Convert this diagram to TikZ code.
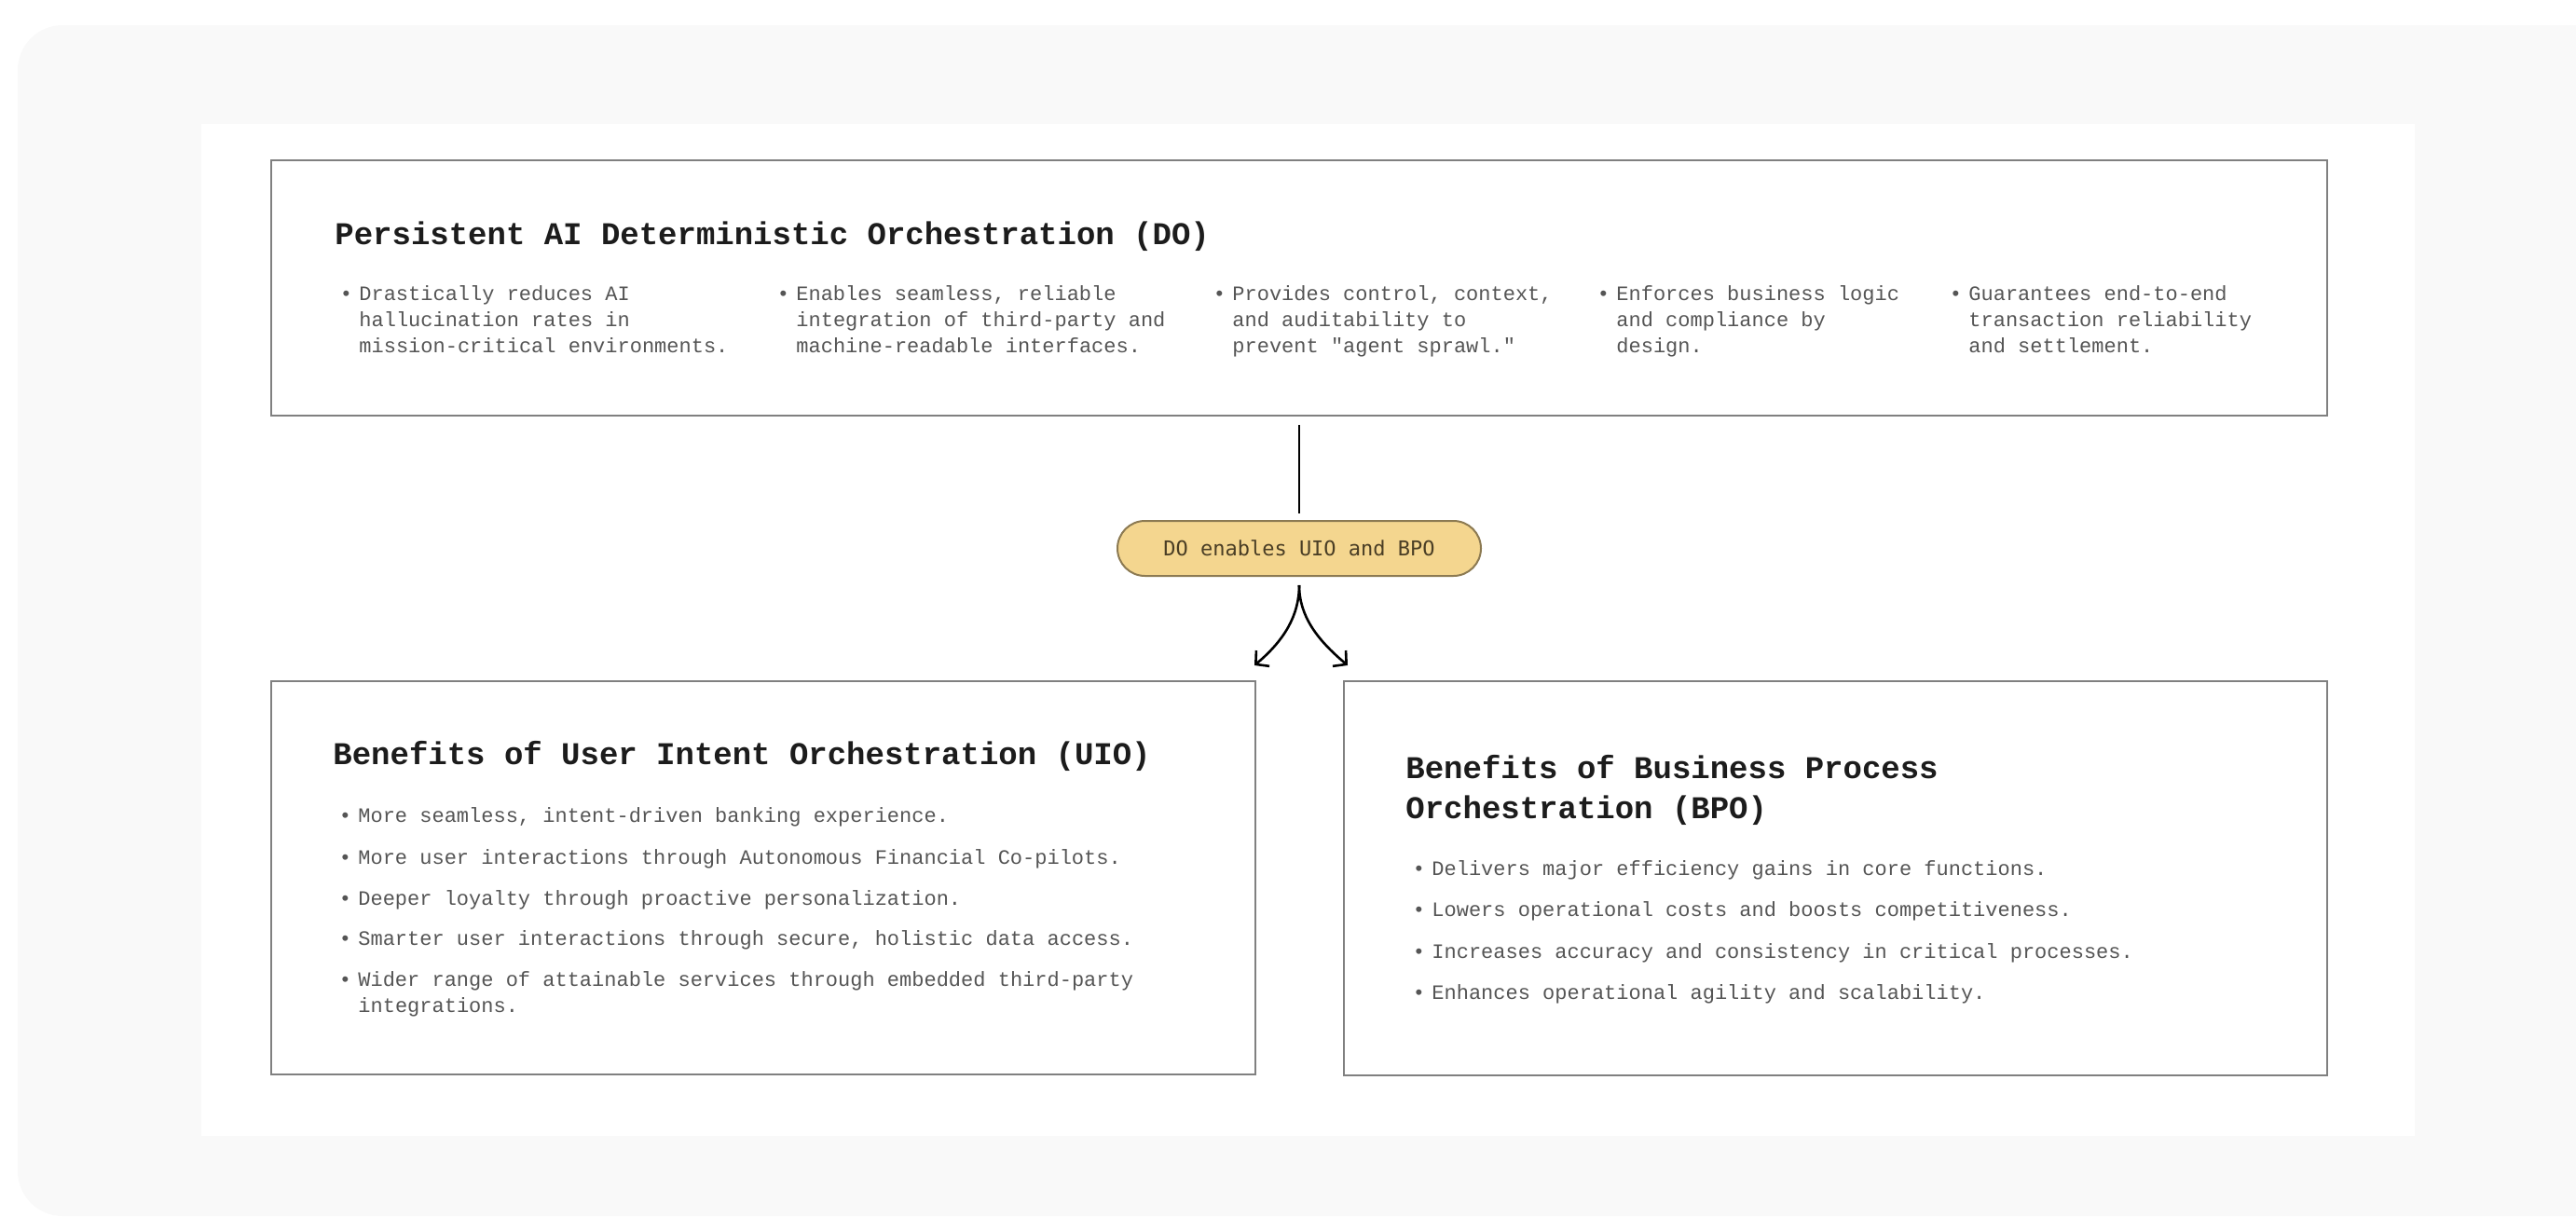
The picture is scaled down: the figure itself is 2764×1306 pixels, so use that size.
\documentclass[tikz,border=0pt]{standalone}
\usepackage{fontspec}
\usepackage{tikz}
\usetikzlibrary{arrows.meta,positioning}

\newfontfamily\courfont{Liberation Mono}
\newfontfamily\pillfont{DejaVu Sans Mono}

\definecolor{pagegray}{HTML}{F9F9F9}
\definecolor{boxgray}{HTML}{808080}
\definecolor{titleink}{HTML}{1C1C1C}
\definecolor{bodyink}{HTML}{555555}
\definecolor{pillfill}{HTML}{F4D68F}
\definecolor{pilldraw}{HTML}{8C7A52}
\definecolor{pillink}{HTML}{4A3E25}

\newcommand{\bul}{\llap{\textbullet\hspace{3.7pt}}}

\begin{document}
\begin{tikzpicture}
			[
				x=0.5pt, y=-0.5pt,
				box/.style={draw=boxgray, line width=1pt, fill=white, inner sep=0pt},
				pill/.style={draw=pilldraw, line width=1pt, fill=pillfill, rounded corners=14.75pt,
					minimum width=195pt, minimum height=29.5pt, inner sep=0pt,
					font=\pillfont\fontsize{11}{13}\selectfont, text=pillink},
				heading/.style={anchor=base west, inner sep=0pt, align=left, text=titleink,
					font=\courfont\bfseries\fontsize{17}{21.5}\selectfont},
				itemtext/.style={anchor=base west, inner sep=0pt, align=left, text=bodyink,
					font=\courfont\fontsize{11}{14}\selectfont},
				link/.style={line width=1.3pt, shorten <=4.5pt, shorten >=3.5pt},
				arrow/.style={line width=1.3pt, shorten <=4.5pt, -{Straight Barb[length=5pt,width=11pt]}}
			]

			% backdrop
			\useasboundingbox (0,0) rectangle (2764,1306);
			\fill[pagegray, rounded corners=24pt] (19,27) rectangle (2810,1305);
			\fill[white] (216,133) rectangle (2591,1219);

			% boxes
			\node[box, minimum width=1103pt, minimum height=137pt] (do) at (1394,309) {};
			\node[box, minimum width=528pt, minimum height=211pt] (uio) at (819,942) {};
			\node[box, minimum width=527.5pt, minimum height=211.5pt] (bpo) at (1969.5,942.5) {};
			\node[pill] (enable) at (1394,588.5) {DO enables UIO and BPO};

			% headings (base = last line)
			\node[heading] (dohead) at (359,262) {Persistent AI Deterministic Orchestration (DO)};
			\node[heading] (uiohead) at (357,820) {Benefits of User Intent Orchestration (UIO)};
			\node[heading] (bpohead) at (1508,878) {Benefits of Business Process\\Orchestration (BPO)};

			% DO points
			\node[itemtext] (do1) at (385,378) {\bul Drastically reduces AI\\hallucination rates in\\mission-critical environments.};
			\node[itemtext] (do2) at (854,378) {\bul Enables seamless, reliable\\integration of third-party and\\machine-readable interfaces.};
			\node[itemtext] (do3) at (1322,378) {\bul Provides control, context,\\and auditability to\\prevent "agent sprawl."};
			\node[itemtext] (do4) at (1734,378) {\bul Enforces business logic\\and compliance by\\design.};
			\node[itemtext] (do5) at (2112,378) {\bul Guarantees end-to-end\\transaction reliability\\and settlement.};

			% UIO points
			\node[itemtext] (uio1) at (384,882) {\bul More seamless, intent-driven banking experience.};
			\node[itemtext] (uio2) at (384,927) {\bul More user interactions through Autonomous Financial Co-pilots.};
			\node[itemtext] (uio3) at (384,971) {\bul Deeper loyalty through proactive personalization.};
			\node[itemtext] (uio4) at (384,1014) {\bul Smarter user interactions through secure, holistic data access.};
			\node[itemtext] (uio5) at (384,1086) {\bul Wider range of attainable services through embedded third-party\\integrations.};

			% BPO points
			\node[itemtext] (bpo1) at (1536,939) {\bul Delivers major efficiency gains in core functions.};
			\node[itemtext] (bpo2) at (1536,983) {\bul Lowers operational costs and boosts competitiveness.};
			\node[itemtext] (bpo3) at (1536,1028) {\bul Increases accuracy and consistency in critical processes.};
			\node[itemtext] (bpo4) at (1536,1072) {\bul Enhances operational agility and scalability.};

			% connectors
			\draw[link] (do.south) -- (enable.north);
			\foreach \target/\corner/\dx/\ang in {uio/north east/-1pt/40, bpo/north west/2.5pt/140}
			\draw[arrow] (enable.south) to [out=-90,in=\ang] ([xshift=\dx,yshift=8pt]\target.\corner);

		\end{tikzpicture}
\end{document}
